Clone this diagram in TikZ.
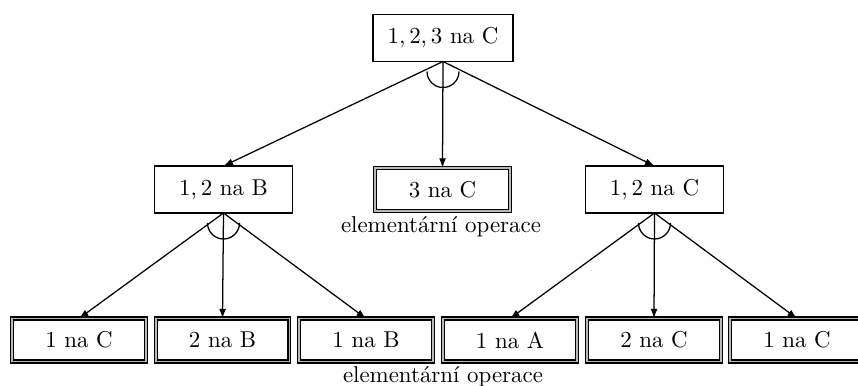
\documentclass[tikz,border=0pt]{standalone}
\usetikzlibrary{arrows.meta}
\begin{document}
\begin{tikzpicture}[x=0.4364pt,y=0.4364pt,
  every node/.style={inner sep=0pt,outer sep=0pt},
  goal/.style={draw,line width=0.55pt,minimum width=60pt,minimum height=20.5pt},
  elem/.style={draw,line width=0.5pt,double=gray!55,double distance=0.8pt,
    minimum width=58.4pt,minimum height=18.8pt},
  link/.style={line width=0.55pt,-{Latex[length=4.2pt,width=3pt]}},
  andarc/.style={line width=0.55pt},
  note/.style={font=\normalsize}]
\useasboundingbox (0,0) rectangle (858,-385);

% root task
\node[goal,minimum width=61pt] (root) at (443,-38) {$1,2,3$ na C};

% second level
\node[goal] (b12) at (223.5,-189.5) {$1,2$ na B};
\node[elem,minimum width=59pt] (c3) at (442.5,-189.5) {3 na C};
\node[goal] (c12) at (654.5,-189.5) {$1,2$ na C};
\node[note] (op1) at (441,-227) {elementární operace};

% leaves
\node[elem] (l1) at (79,-340) {1 na C};
\node[elem] (l2) at (222.5,-340) {2 na B};
\node[elem] (l3) at (366,-340) {1 na B};
\node[elem] (l4) at (510,-340) {1 na A};
\node[elem] (l5) at (654,-340) {2 na C};
\node[elem] (l6) at (797,-340) {1 na C};
\node[note] (op2) at (443,-377) {elementární operace};

% decomposition of the root
\draw[link] (root.south) -- (b12.north);
\draw[link] (root.south) -- (c3.north);
\draw[link] (root.south) -- (c12.north);
\draw[andarc] ([shift={(-16,-10)}]root.south) arc (180:360:16);

% decomposition of 1,2 na B
\draw[link] (b12.south) -- (l1.north);
\draw[link] (b12.south) -- (l2.north);
\draw[link] (b12.south) -- (l3.north);
\draw[andarc] ([shift={(-16,-10)}]b12.south) arc (180:360:16);

% decomposition of 1,2 na C
\draw[link] (c12.south) -- (l4.north);
\draw[link] (c12.south) -- (l5.north);
\draw[link] (c12.south) -- (l6.north);
\draw[andarc] ([shift={(-16,-10)}]c12.south) arc (180:360:16);
\end{tikzpicture}
\end{document}
